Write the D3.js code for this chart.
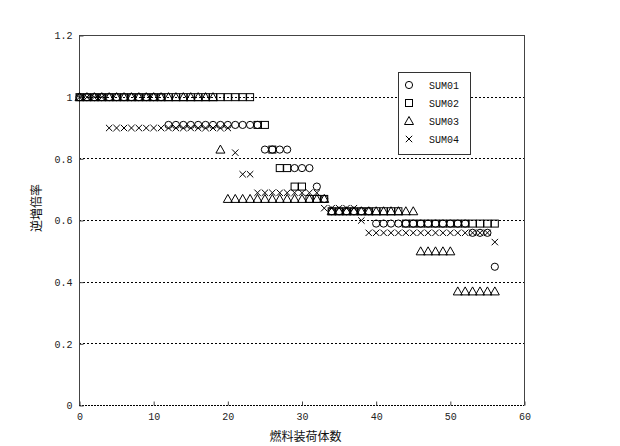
<!DOCTYPE html>
<html>
<head>
<meta charset="utf-8">
<script src="https://cdn.jsdelivr.net/npm/d3@7"></script>
<style>
  html, body { margin: 0; padding: 0; background: #fff; }
  svg { display: block; }
</style>
</head>
<body>
<svg id="chart" width="620" height="446"></svg>
<script>
// ---- data ----
const assemblies = [0,1,2,3,4,5,6,7,8,9,10,11,12,13,14,15,16,17,18,19,20,21,22,23,24,25,26,27,28,29,30,31,32,33,34,35,36,37,38,39,40,41,42,43,44,45,46,47,48,49,50,51,52,53,54,55,56];
const sum01 = [1,1,1,1,1,1,1,1,1,1,1,1,
  0.91,0.91,0.91,0.91,0.91,0.91,0.91,0.91,0.91,0.91,0.91,0.91,0.91,
  0.83,0.83,0.83,0.83,
  0.77,0.77,0.77,
  0.71,
  0.67,
  0.63,0.63,0.63,0.63,0.63,0.63,
  0.59,0.59,0.59,0.59,0.59,0.59,0.59,0.59,0.59,0.59,0.59,0.59,0.59,
  0.56,0.56,0.56,
  0.45];
const sum02 = [1,1,1,1,1,1,1,1,1,1,1,1,1,1,1,1,1,1,1,1,1,1,1,1,
  0.91,0.91,
  0.83,
  0.77,0.77,
  0.71,0.71,
  0.67,0.67,0.67,
  0.63,0.63,0.63,0.63,0.63,0.63,0.63,0.63,0.63,0.63,
  0.59,0.59,0.59,0.59,0.59,0.59,0.59,0.59,0.59,0.59,0.59,0.59,0.59];
const sum03 = [1,1,1,1,1,1,1,1,1,1,1,1,1,1,1,1,1,1,1,
  0.83,
  0.67,0.67,0.67,0.67,0.67,0.67,0.67,0.67,0.67,0.67,0.67,0.67,0.67,0.67,
  0.63,0.63,0.63,0.63,0.63,0.63,0.63,0.63,0.63,0.63,0.63,0.63,
  0.50,0.50,0.50,0.50,0.50,
  0.37,0.37,0.37,0.37,0.37,0.37];
const sum04 = [1,1,1,1,
  0.90,0.90,0.90,0.90,0.90,0.90,0.90,0.90,0.90,0.90,0.90,0.90,0.90,0.90,0.90,0.90,0.90,
  0.82,
  0.75,0.75,
  0.69,0.69,0.69,0.69,0.69,0.69,0.69,0.69,0.69,
  0.64,0.64,0.64,0.64,0.64,
  0.60,
  0.56,0.56,0.56,0.56,0.56,0.56,0.56,0.56,0.56,0.56,0.56,0.56,0.56,0.56,0.56,0.56,0.56,
  0.53];
const seriesNames = ["SUM01", "SUM02", "SUM03", "SUM04"];
const seriesSymbols = ["circle", "square", "triangle", "cross"];
const xTicks = [0, 10, 20, 30, 40, 50, 60];
const yTicks = [0, 0.2, 0.4, 0.6, 0.8, 1, 1.2];
const gridValues = [0.2, 0.4, 0.6, 0.8, 1];
const xLabel = "燃料装荷体数";
const yLabel = "逆増倍率";

const seriesValues = [sum01, sum02, sum03, sum04];

(function () {
  const svg = d3.select("#chart");
  const pL = 79, pR = 524, pT = 35, pB = 405;
  const x = d3.scaleLinear().domain([0, 60]).range([pL, pR]);
  const y = d3.scaleLinear().domain([0, 1.2]).range([pB, pT]);
  const tickFont = "'Liberation Mono', 'DejaVu Sans Mono', monospace";
  const cjkFont = "'Noto Sans CJK JP', 'Noto Sans CJK SC', sans-serif";
  const axisColor = "#444";

  // grid lines (dotted)
  svg.append("g").selectAll("line").data(gridValues).join("line")
    .attr("x1", pL).attr("x2", pR)
    .attr("y1", d => Math.round(y(d)) + 0.5).attr("y2", d => Math.round(y(d)) + 0.5)
    .attr("stroke", "#000").attr("stroke-width", 1).attr("stroke-dasharray", "2,2");

  // frame
  svg.append("line").attr("x1", pL + 0.5).attr("x2", pL + 0.5).attr("y1", pT).attr("y2", pB + 0.5)
    .attr("stroke", axisColor);
  svg.append("line").attr("x1", pR + 0.5).attr("x2", pR + 0.5).attr("y1", pT).attr("y2", pB + 0.5)
    .attr("stroke", axisColor);
  svg.append("line").attr("x1", pL).attr("x2", pR).attr("y1", pT + 0.5).attr("y2", pT + 0.5)
    .attr("stroke", axisColor);
  svg.append("line").attr("x1", pL).attr("x2", pR).attr("y1", pB + 0.5).attr("y2", pB + 0.5)
    .attr("stroke", "#000").attr("stroke-dasharray", "2,1");

  // axes
  const xAxis = d3.axisBottom(x).tickValues(xTicks).tickFormat(d => String(d))
    .tickSizeInner(-4).tickSizeOuter(0).tickPadding(7);
  const gx = svg.append("g").attr("transform", `translate(0.5,${pB + 0.5})`).call(xAxis);
  gx.select(".domain").remove();
  gx.selectAll("line").attr("stroke", axisColor);
  gx.selectAll("text").attr("font-family", tickFont).attr("font-size", 10).attr("fill", "#222");

  const yAxis = d3.axisLeft(y).tickValues(yTicks).tickFormat(d => String(d))
    .tickSizeInner(-4).tickSizeOuter(0).tickPadding(7);
  const gy = svg.append("g").attr("transform", `translate(${pL + 0.5},0.5)`).call(yAxis);
  gy.select(".domain").remove();
  gy.selectAll("line").attr("stroke", axisColor);
  gy.selectAll("text").attr("font-family", tickFont).attr("font-size", 10).attr("fill", "#222");

  // axis titles
  svg.append("text").attr("x", (pL + pR) / 2 + 4).attr("y", 441)
    .attr("text-anchor", "middle").attr("font-family", cjkFont).attr("font-size", 12).attr("fill", "#111")
    .text(xLabel);
  svg.append("text").attr("transform", `translate(41,${(pT + pB) / 2 - 12}) rotate(-90)`)
    .attr("text-anchor", "middle").attr("font-family", cjkFont).attr("font-size", 12).attr("fill", "#111")
    .text(yLabel);

  function drawMarker(g, type, cx, cy) {
    if (type === "circle") {
      g.append("circle").attr("cx", cx).attr("cy", cy).attr("r", 3.6)
        .attr("fill", "none").attr("stroke", "#000").attr("stroke-width", 1);
    } else if (type === "square") {
      g.append("rect").attr("x", cx - 3.5).attr("y", cy - 3.5).attr("width", 7).attr("height", 7)
        .attr("fill", "none").attr("stroke", "#000").attr("stroke-width", 1);
    } else if (type === "triangle") {
      g.append("path").attr("d", `M${cx},${cy - 4.5}L${cx + 4.5},${cy + 3.5}L${cx - 4.5},${cy + 3.5}Z`)
        .attr("fill", "none").attr("stroke", "#000").attr("stroke-width", 1);
    } else {
      g.append("path").attr("d", `M${cx - 3.2},${cy - 3.2}L${cx + 3.2},${cy + 3.2}M${cx - 3.2},${cy + 3.2}L${cx + 3.2},${cy - 3.2}`)
        .attr("fill", "none").attr("stroke", "#000").attr("stroke-width", 1);
    }
  }

  seriesValues.forEach((vals, si) => {
    const g = svg.append("g").attr("class", "series-" + seriesNames[si]);
    vals.forEach((v, i) => {
      drawMarker(g, seriesSymbols[si], x(assemblies[i]) + 0.5, y(v) + 0.5);
    });
  });

  // legend
  const lg = svg.append("g");
  lg.append("rect").attr("x", 398.5).attr("y", 72.5).attr("width", 72).attr("height", 82)
    .attr("fill", "#fff").attr("stroke", "#333").attr("stroke-width", 1);
  seriesNames.forEach((name, i) => {
    const cy = 85 + i * 18;
    drawMarker(lg, seriesSymbols[i], 409, cy);
    lg.append("text").attr("x", 429).attr("y", cy + 4)
      .attr("font-family", tickFont).attr("font-size", 10).attr("fill", "#111").text(name);
  });
})();
</script>
</body>
</html>
